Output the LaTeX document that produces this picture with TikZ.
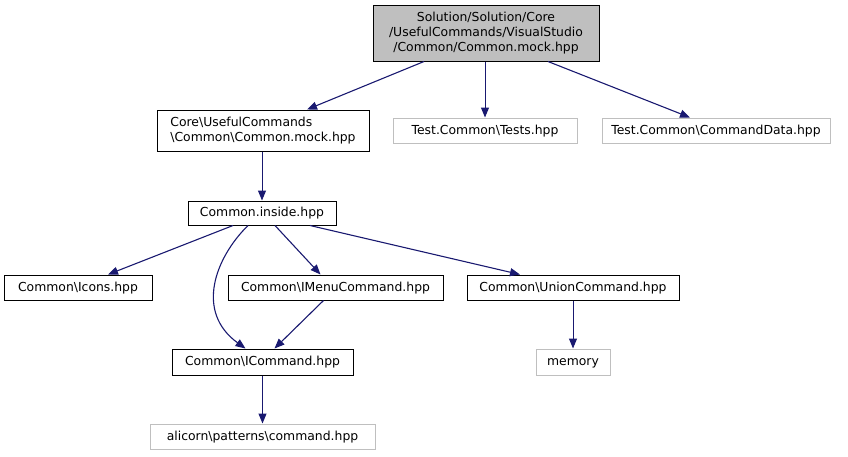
\documentclass[tikz,border=0pt]{standalone}
\usepackage{fontspec}
\setmainfont{DejaVu Sans}
\usetikzlibrary{arrows.meta}
\definecolor{edgeblue}{HTML}{191970}
\definecolor{grayb}{HTML}{BFBFBF}
\tikzset{
  box/.style={draw=black, line width=1pt, inner sep=0pt, font=\fontsize{12.4}{15}\selectfont, text height=9.6pt, text depth=2.4pt},
  multi/.style={text height=, text depth=},
  graybox/.style={box, draw=grayb},
  topbox/.style={box, fill=grayb},
  dep/.style={draw=edgeblue, line width=1.1pt, -{Triangle[length=10pt,width=8pt]}, color=edgeblue},
  vdep/.style={dep, line width=1pt}
}
\begin{document}
\begin{tikzpicture}[x=1pt,y=-1pt]
\useasboundingbox (0,0) rectangle (848,456);
\node[topbox, multi, align=center, minimum width=226pt, minimum height=56pt] (top) at (486,33)
  {Solution/Solution/Core\\/UsefulCommands/VisualStudio\\/Common/Common.mock.hpp};
\node[box, multi, align=left, minimum width=212pt, minimum height=41pt] (core) at (263,130.5)
  {Core\textbackslash UsefulCommands\\\textbackslash Common\textbackslash Common.mock.hpp};
\node[graybox, minimum width=184pt, minimum height=25pt] (tests) at (485,130.5)
  {Test.Common\textbackslash Tests.hpp};
\node[graybox, minimum width=228pt, minimum height=25pt] (cmddata) at (716,130.5)
  {Test.Common\textbackslash CommandData.hpp};
\node[box, minimum width=148pt, minimum height=24pt] (inside) at (262,213)
  {Common.inside.hpp};
\node[box, minimum width=148pt, minimum height=25pt] (icons) at (78,287.5)
  {Common\textbackslash Icons.hpp};
\node[box, minimum width=215pt, minimum height=25pt] (imenu) at (335.5,287.5)
  {Common\textbackslash IMenuCommand.hpp};
\node[box, minimum width=212pt, minimum height=25pt] (union) at (573,287.5)
  {Common\textbackslash UnionCommand.hpp};
\node[box, minimum width=181pt, minimum height=26pt] (icommand) at (262.5,362)
  {Common\textbackslash ICommand.hpp};
\node[graybox, minimum width=74pt, minimum height=26pt] (memory) at (573,362)
  {memory};
\node[graybox, minimum width=225pt, minimum height=25pt] (alicorn) at (262.5,436.5)
  {alicorn\textbackslash patterns\textbackslash command.hpp};

\draw[dep] ([xshift=-62pt]top.south) -- ([xshift=44pt]core.north);
\draw[vdep] ([xshift=-1pt]top.south) -- (tests.north);
\draw[dep] ([xshift=62pt]top.south) -- ([xshift=-26pt]cmddata.north);
\draw[vdep] ([xshift=-1pt]core.south) -- (inside.north);
\draw[dep] ([xshift=-29pt]inside.south) -- ([xshift=30pt]icons.north);
\draw[dep] ([xshift=13pt]inside.south) -- ([xshift=-15pt]imenu.north);
\draw[dep] ([xshift=48pt]inside.south) -- ([xshift=-53pt]union.north);
\draw[dep] ([xshift=-14pt]inside.south) .. controls (215,258) and (195,312) .. ([xshift=-17pt]icommand.north);
\draw[dep] ([xshift=-12pt]imenu.south) -- ([xshift=12pt]icommand.north);
\draw[vdep] (icommand.south) -- (alicorn.north);
\draw[vdep] (union.south) -- (memory.north);
\end{tikzpicture}
\end{document}
